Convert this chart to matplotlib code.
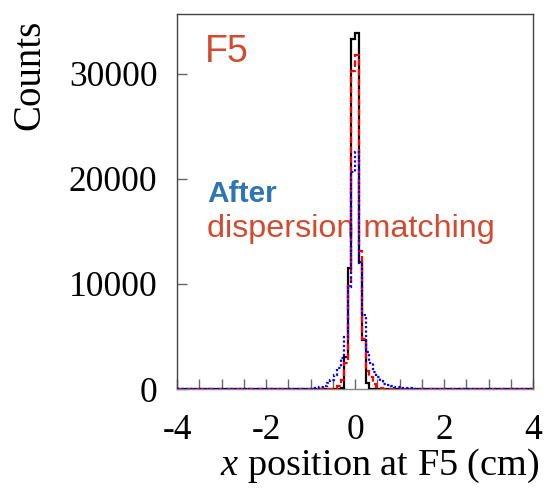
import numpy as np
import matplotlib
matplotlib.use("Agg")
import matplotlib.pyplot as plt

plt.rcParams['font.family'] = 'Liberation Serif'
plt.rcParams['mathtext.fontset'] = 'custom'
plt.rcParams['mathtext.it'] = 'Liberation Serif:italic'
plt.rcParams['mathtext.rm'] = 'Liberation Serif'
plt.rcParams['axes.unicode_minus'] = False

# histogram binning: 0.08 cm bins over [-4, 4]
x_min, x_max, n_bins = -4.0, 4.0, 100
# first bin of the non-empty region (left edge, cm)
core_start = -1.04

# counts per bin from -1.04 to 1.44 cm
before = [0, 0, 0, 0, 0, 0, 0, 0, 0, 60, 3060, 11500, 33340, 33850,
          12050, 4650, 600, 0, 0, 0, 0, 0, 0, 0, 0, 0, 0, 0, 0, 0, 0]
after_red = [0, 0, 0, 0, 0, 0, 0, 60, 300, 900, 2500, 9800, 30300, 31800,
             13100, 4800, 1700, 1100, 500, 200, 80, 30, 0, 0, 0, 0, 0, 0, 0, 0, 0]
after_blue = [30, 60, 100, 180, 320, 560, 880, 1300, 2000, 2950, 4950, 9700, 20650, 22550,
              12000, 7000, 3500, 2500, 1650, 1150, 750, 520, 380, 270, 200, 150, 110, 80, 60, 40, 20]

edges = np.linspace(x_min, x_max, n_bins + 1)
i0 = int(round((core_start - x_min) / (edges[1] - edges[0])))


def full(core):
    h = np.zeros(n_bins)
    h[i0:i0 + len(core)] = core
    return h


fig = plt.figure(figsize=(5.48, 4.98), dpi=100)
ax = fig.add_axes([177 / 548, 1 - 389 / 498, 356 / 548, 375 / 498])

ax.stairs(full(before), edges, baseline=0, color='black', lw=1.6, zorder=3)
ax.stairs(full(after_red), edges, baseline=0, color='#ff0000', lw=1.6,
          linestyle=(0, (3, 1.5)), zorder=4)
ax.stairs(full(after_blue), edges, baseline=0, color='#0000ff', lw=1.6,
          linestyle=(0, (1, 1)), zorder=5)

ax.set_xlim(x_min, x_max)
ax.set_ylim(0, 35700)
ax.set_xticks([-4, -2, 0, 2, 4])
ax.set_xticks(np.arange(-4, 4.01, 0.5), minor=True)
ax.set_yticks([0, 10000, 20000, 30000])
ax.tick_params(axis='both', which='both', direction='in', colors='#666666',
               labelcolor='black', labelsize=25.5)
ax.tick_params(axis='x', which='both', length=7, width=1, pad=18)
ax.tick_params(axis='y', which='major', length=7, width=1, pad=14)
for s in ax.spines.values():
    s.set_color('#444444')
    s.set_linewidth(1.0)
ax.spines['bottom'].set_color('#888888')

fig.text(30 / 548, 1 - 75 / 498, 'Counts', rotation=90, ha='center', va='center', fontsize=28)
fig.text(380 / 548, 1 - 466 / 498, r'$x$ position at F5 (cm)', ha='center', va='center', fontsize=27.5)

ax.text(205 / 548, 1 - 62 / 498, 'F5', transform=fig.transFigure, fontsize=27,
        family='Liberation Sans', color='#d24b30')
ax.text(207 / 548, 1 - 202 / 498, 'After', transform=fig.transFigure, fontsize=21.5,
        family='Liberation Sans', weight='bold', color='#2e75b6', zorder=2)
ax.text(207 / 548, 1 - 237 / 498, 'dispersion matching', transform=fig.transFigure,
        fontsize=23.3, family='Liberation Sans', color='#d24b30', zorder=2)

fig.savefig('out.png', dpi=100)
